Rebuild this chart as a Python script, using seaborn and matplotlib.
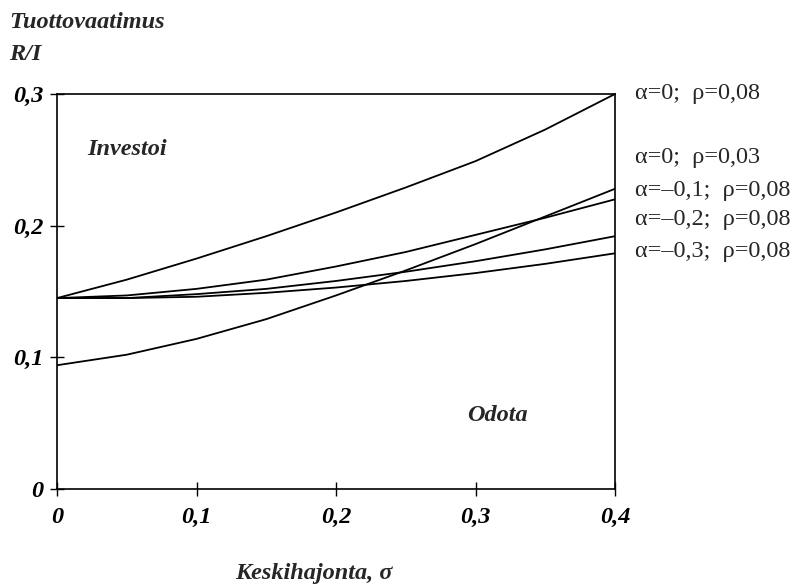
import matplotlib
matplotlib.use("Agg")
import matplotlib.pyplot as plt
import seaborn as sns
import pandas as pd
from matplotlib.ticker import FuncFormatter

sigma = [0.0, 0.05, 0.1, 0.15, 0.2, 0.25, 0.3, 0.35, 0.4]
a0_r08 = [0.145, 0.159, 0.175, 0.192, 0.210, 0.229, 0.249, 0.273, 0.300]
a0_r03 = [0.094, 0.102, 0.114, 0.129, 0.147, 0.166, 0.186, 0.207, 0.228]
a01_r08 = [0.145, 0.147, 0.152, 0.159, 0.169, 0.180, 0.193, 0.206, 0.220]
a02_r08 = [0.145, 0.145, 0.148, 0.152, 0.158, 0.165, 0.173, 0.182, 0.192]
a03_r08 = [0.145, 0.145, 0.146, 0.149, 0.153, 0.158, 0.164, 0.171, 0.179]

series_labels = ["α=0;  ρ=0,08", "α=0;  ρ=0,03", "α=–0,1;  ρ=0,08",
                 "α=–0,2;  ρ=0,08", "α=–0,3;  ρ=0,08"]
series_values = [a0_r08, a0_r03, a01_r08, a02_r08, a03_r08]
label_y = [0.3005, 0.252, 0.227, 0.2045, 0.180]

x_ticks = [0, 0.1, 0.2, 0.3, 0.4]
y_ticks = [0, 0.1, 0.2, 0.3]

rows = []
for lab, vals in zip(series_labels, series_values):
    for s, v in zip(sigma, vals):
        rows.append({"sigma": s, "R": v, "series": lab})
df = pd.DataFrame(rows)

sns.set_style("white")
plt.rcParams["font.family"] = ["Liberation Serif", "DejaVu Serif"]

W, H = 797, 588
L, R, T, B = 57, 615, 94, 489

fig = plt.figure(figsize=(W / 100, H / 100), dpi=100)
ax = fig.add_axes([L / W, 1 - B / H, (R - L) / W, (B - T) / H])

sns.lineplot(data=df, x="sigma", y="R", hue="series",
             palette=["black"] * len(series_labels), linewidth=1.3,
             legend=False, ax=ax)

ax.set_xlim(0, 0.4)
ax.set_ylim(0, 0.3)
ax.set_xticks(x_ticks)
ax.set_yticks(y_ticks)

def fmt(v, pos):
    if abs(v) < 1e-9:
        return "0"
    return f"{v:.1f}".replace(".", ",")

ax.xaxis.set_major_formatter(FuncFormatter(fmt))
ax.yaxis.set_major_formatter(FuncFormatter(fmt))
ax.tick_params(axis="both", direction="inout", length=10, width=1,
               colors="black", labelsize=17.5, bottom=True, left=True)
ax.tick_params(axis="x", pad=8)
ax.tick_params(axis="y", pad=5)
for lbl in ax.get_xticklabels() + ax.get_yticklabels():
    lbl.set_fontweight("bold")
    lbl.set_fontstyle("italic")

for sp in ax.spines.values():
    sp.set_visible(True)
    sp.set_color("black")
    sp.set_linewidth(1.2)

ax.set_xlabel("")
ax.set_ylabel("")

fig.text(9 / W, 1 - 22 / H, "Tuottovaatimus", fontsize=17.5,
         fontweight="bold", fontstyle="italic", va="center", ha="left")
fig.text(9 / W, 1 - 55 / H, "R/I", fontsize=17.5,
         fontweight="bold", fontstyle="italic", va="center", ha="left")
fig.text(314 / W, 1 - 573 / H, "Keskihajonta, σ", fontsize=17.5,
         fontweight="bold", fontstyle="italic", va="center", ha="center")

ax.text(0.0215, 0.258, "Investoi", fontsize=17.5, fontstyle="italic",
        fontweight="bold", va="center", ha="left")
ax.text(0.3154, 0.0562, "Odota", fontsize=17.5, fontstyle="italic",
        fontweight="bold", va="center", ha="center")

for lab, yv in zip(series_labels, label_y):
    ax.text(0.4145, yv, lab, fontsize=17.5, va="center", ha="left",
            clip_on=False)

fig.savefig("out.png", dpi=100)
